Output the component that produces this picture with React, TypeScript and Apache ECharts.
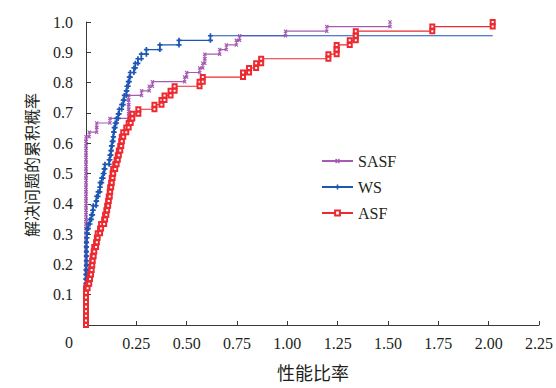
import React, { useEffect, useRef } from "react";
import * as echarts from "echarts";

const problemCount = 66;
const xTicks = [0, 0.25, 0.5, 0.75, 1.0, 1.25, 1.5, 1.75, 2.0, 2.25];
const yTicks = [0, 0.1, 0.2, 0.3, 0.4, 0.5, 0.6, 0.7, 0.8, 0.9, 1.0];
const seriesNames = ["SASF", "WS", "ASF"];

// performance ratio of each solved problem (sorted)
const sasfRatios = [
  0, 0, 0, 0, 0, 0, 0, 0, 0, 0, 0, 0, 0, 0, 0, 0, 0, 0, 0, 0,
  0, 0, 0, 0, 0, 0, 0, 0, 0, 0, 0, 0, 0, 0, 0, 0, 0, 0, 0, 0, 0,
  0.016, 0.053, 0.053, 0.119, 0.212, 0.212, 0.212, 0.212, 0.212,
  0.276, 0.314, 0.33, 0.49, 0.5, 0.565, 0.58, 0.59, 0.59, 0.664, 0.697,
  0.747, 0.763, 0.991, 1.196, 1.51,
];
const wsRatios = [
  0, 0, 0, 0, 0, 0, 0, 0, 0, 0, 0, 0,
  0.002, 0.002, 0.002, 0.002, 0.002, 0.002,
  0.003, 0.005, 0.006, 0.012, 0.02, 0.027, 0.033, 0.036, 0.05, 0.053,
  0.06, 0.069, 0.07, 0.078, 0.085, 0.09, 0.094, 0.115, 0.119, 0.124,
  0.126, 0.13, 0.135, 0.137, 0.14, 0.145, 0.152, 0.16, 0.165, 0.177,
  0.185, 0.19, 0.2, 0.203, 0.21, 0.215, 0.22, 0.238, 0.245, 0.258,
  0.275, 0.3, 0.367, 0.462, 0.618,
];
const wsLineEnd = 2.02;
const asfRatios = [
  0, 0, 0, 0, 0, 0, 0, 0,
  0.008, 0.016, 0.02, 0.025, 0.028, 0.031, 0.033, 0.038, 0.041, 0.05,
  0.054, 0.058, 0.07, 0.075, 0.09, 0.095, 0.101, 0.105, 0.11, 0.113,
  0.118, 0.12, 0.125, 0.128, 0.132, 0.135, 0.145, 0.152, 0.158, 0.163,
  0.17, 0.175, 0.178, 0.185, 0.2, 0.212, 0.222, 0.23, 0.26, 0.34,
  0.375, 0.39, 0.42, 0.44, 0.564, 0.58, 0.78, 0.81, 0.845, 0.87,
  1.204, 1.245, 1.245, 1.31, 1.34, 1.34, 1.72, 2.02,
];

const SERIF = "Liberation Serif";
const CJK = "Noto Sans CJK SC";
const AXIS_COLOR = "#3a3a3a";
const TEXT_COLOR = "#231f20";

function profilePoints(ratios: number[], lineEnd?: number) {
  const pts: any[] = [];
  let prev = 0;
  ratios.forEach((r, i) => {
    const y = (i + 1) / problemCount;
    pts.push([r, prev]);
    pts.push([r, y]);
    prev = y;
  });
  if (lineEnd !== undefined) {
    pts.push({ value: [lineEnd, prev], symbol: "none" });
  }
  return pts;
}

const xSym = "path://M0,1L1,0L5,4L4,5Z M4,0L5,1L1,5L0,4Z";
const plusSym = "path://M2,0H4V2H6V4H4V6H2V4H0V2H2Z";

export default function App() {
  const ref = useRef<HTMLDivElement>(null);
  useEffect(() => {
    if (!ref.current) return;
    const chart = echarts.init(ref.current, undefined, { renderer: "svg" });
    chart.setOption({
      animation: false,
      backgroundColor: "#ffffff",
      textStyle: { fontFamily: SERIF },
      grid: { left: 86, right: 16, top: 22, bottom: 63 },
      xAxis: {
        type: "value",
        min: xTicks[0],
        max: xTicks[xTicks.length - 1],
        interval: 0.25,
        axisLine: { show: true, lineStyle: { color: AXIS_COLOR, width: 1 } },
        axisTick: { show: true, inside: true, length: 4, lineStyle: { color: AXIS_COLOR } },
        splitLine: { show: false },
        axisLabel: {
          color: TEXT_COLOR,
          fontFamily: SERIF,
          fontSize: 16,
          margin: 10,
          formatter: (v: number) => (v === 0 ? "" : v.toFixed(2)),
        },
      },
      yAxis: {
        type: "value",
        min: yTicks[0],
        max: yTicks[yTicks.length - 1],
        interval: 0.1,
        axisLine: { show: true, lineStyle: { color: AXIS_COLOR, width: 1 } },
        axisTick: { show: true, inside: true, length: 5, lineStyle: { color: AXIS_COLOR } },
        splitLine: { show: false },
        axisLabel: {
          color: TEXT_COLOR,
          fontFamily: SERIF,
          fontSize: 16,
          margin: 13,
          padding: [0, 0, 5, 0],
          formatter: (v: number) => (v === 0 ? "" : v.toFixed(1)),
        },
      },
      legend: {
        data: seriesNames,
        orient: "vertical",
        left: 316,
        top: 148,
        itemWidth: 31,
        itemHeight: 6,
        itemGap: 10,
        textStyle: { color: TEXT_COLOR, fontFamily: SERIF, fontSize: 16, lineHeight: 16 },
      },
      graphic: [
        {
          type: "text",
          x: 69,
          y: 342,
          style: { text: "0", fill: TEXT_COLOR, fontFamily: SERIF, fontSize: 16, align: "center", verticalAlign: "middle" },
        },
        {
          type: "text",
          x: 313,
          y: 372,
          style: { text: "性能比率", fill: TEXT_COLOR, fontFamily: CJK, fontSize: 18, align: "center", verticalAlign: "middle" },
        },
        {
          type: "text",
          x: 31,
          y: 165,
          rotation: Math.PI / 2,
          style: { text: "解决问题的累积概率", fill: TEXT_COLOR, fontFamily: CJK, fontSize: 16, align: "center", verticalAlign: "middle" },
        },
      ],
      series: [
        {
          name: "SASF",
          type: "line",
          data: profilePoints(sasfRatios),
          symbol: xSym,
          symbolSize: 4,
          showAllSymbol: true,
          lineStyle: { color: "#a65bb3", width: 1.2 },
          itemStyle: { color: "#a65bb3" },
        },
        {
          name: "WS",
          type: "line",
          data: profilePoints(wsRatios, wsLineEnd),
          symbol: plusSym,
          symbolSize: 5,
          showAllSymbol: true,
          lineStyle: { color: "#1d56b3", width: 1.2 },
          itemStyle: { color: "#1d56b3" },
        },
        {
          name: "ASF",
          type: "line",
          data: profilePoints(asfRatios),
          symbol: "emptyRect",
          symbolSize: 4,
          showAllSymbol: true,
          lineStyle: { color: "#ec2a30", width: 1.2 },
          itemStyle: { color: "#ec2a30", borderWidth: 1 },
        },
      ],
    });
    return () => chart.dispose();
  }, []);
  return <div ref={ref} style={{ width: 556, height: 388, position: "absolute", left: 0, top: 0 }} />;
}
